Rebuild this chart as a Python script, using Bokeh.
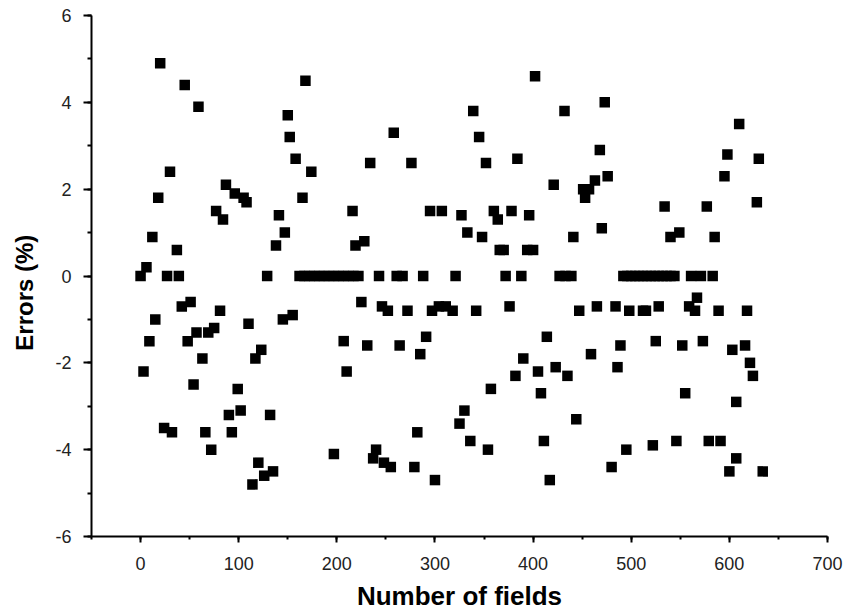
from bokeh.plotting import figure
from bokeh.models import Range1d, SingleIntervalTicker, ColumnDataSource, CustomJSTickFormatter
from bokeh.embed import file_html
from bokeh.resources import INLINE

# Data
fields = [
    0, 3, 6, 9, 12, 15, 18, 20, 24, 27, 30, 32, 37, 39, 42, 45, 48, 51, 54, 57,
    59, 63, 66, 69, 72, 75, 77, 81, 84, 87, 90, 93, 96, 99, 102, 105, 108, 110, 114, 117,
    120, 123, 126, 129, 132, 135, 138, 141, 145, 147, 150, 152, 155, 158,
    162, 167, 172, 177, 182, 187, 192, 197, 202, 207, 212, 217, 222,
    165, 168, 174,
    197, 207, 210, 216, 219, 225, 228, 231, 234, 237, 240, 243, 246, 248, 252, 255, 258, 261,
    264, 267, 272, 276, 279, 282, 285, 288, 291, 295, 297, 300, 304, 307, 311, 318, 321, 325,
    327, 330, 333, 336, 339, 342, 345, 348, 352, 354, 357, 360, 364, 366, 370, 372, 376, 378,
    382, 384, 388, 390, 394, 396, 400, 402, 405, 408, 411, 414, 417, 421, 423, 427, 432, 433,
    435, 439, 441, 444, 447, 451, 453, 457, 459, 463, 465, 468, 470, 473, 476, 480, 484, 486, 489,
    492, 496, 500, 504, 508, 512, 516, 520, 524, 528, 532, 536, 540, 544,
    495, 498, 512, 515, 522, 525, 528, 534, 540, 546, 549, 552, 555, 559, 561, 565, 567, 571,
    573, 577, 579, 583, 585, 589, 591, 595, 598, 600, 603, 607, 607, 610, 616, 618, 621, 624,
    628, 630, 634,
]
errors = [
    0, -2.2, 0.2, -1.5, 0.9, -1.0, 1.8, 4.9, -3.5, 0, 2.4, -3.6, 0.6, 0, -0.7, 4.4, -1.5, -0.6, -2.5, -1.3,
    3.9, -1.9, -3.6, -1.3, -4.0, -1.2, 1.5, -0.8, 1.3, 2.1, -3.2, -3.6, 1.9, -2.6, -3.1, 1.8, 1.7, -1.1, -4.8, -1.9,
    -4.3, -1.7, -4.6, 0, -3.2, -4.5, 0.7, 1.4, -1.0, 1.0, 3.7, 3.2, -0.9, 2.7,
    0, 0, 0, 0, 0, 0, 0, 0, 0, 0, 0, 0, 0,
    1.8, 4.5, 2.4,
    -4.1, -1.5, -2.2, 1.5, 0.7, -0.6, 0.8, -1.6, 2.6, -4.2, -4.0, 0, -0.7, -4.3, -0.8, -4.4, 3.3, 0,
    -1.6, 0, -0.8, 2.6, -4.4, -3.6, -1.8, 0, -1.4, 1.5, -0.8, -4.7, -0.7, 1.5, -0.7, -0.8, 0, -3.4,
    1.4, -3.1, 1.0, -3.8, 3.8, -0.8, 3.2, 0.9, 2.6, -4.0, -2.6, 1.5, 1.3, 0.6, 0.6, 0, -0.7, 1.5,
    -2.3, 2.7, 0, -1.9, 0.6, 1.4, 0.6, 4.6, -2.2, -2.7, -3.8, -1.4, -4.7, 2.1, -2.1, 0, 3.8, 0,
    -2.3, 0, 0.9, -3.3, -0.8, 2.0, 1.8, 2.0, -1.8, 2.2, -0.7, 2.9, 1.1, 4.0, 2.3, -4.4, -0.7, -2.1, -1.6,
    0, 0, 0, 0, 0, 0, 0, 0, 0, 0, 0, 0, 0, 0,
    -4.0, -0.8, -0.8, -0.8, -3.9, -1.5, -0.7, 1.6, 0.9, -3.8, 1.0, -1.6, -2.7, -0.7, 0, -0.8, -0.5, 0,
    -1.5, 1.6, -3.8, 0, 0.9, -0.8, -3.8, 2.3, 2.8, -4.5, -1.7, -4.2, -2.9, 3.5, -1.6, -0.8, -2.0, -2.3,
    1.7, 2.7, -4.5,
]

x_label = "Number of fields"
y_label = "Errors (%)"

src = ColumnDataSource(data=dict(x=fields, y=errors))

p = figure(
    width=848, height=614,
    x_range=Range1d(-50, 700), y_range=Range1d(-6, 6),
    output_backend="svg", toolbar_location=None,
    min_border_left=91, min_border_right=21, min_border_top=15, min_border_bottom=78,
)
p.outline_line_color = None
p.xgrid.grid_line_color = None
p.ygrid.grid_line_color = None
p.background_fill_color = "white"
p.border_fill_color = "white"

p.scatter("x", "y", source=src, marker="square", size=10.5,
          fill_color="black", line_color=None)

xa = p.xaxis[0]
ya = p.yaxis[0]
xa.ticker = SingleIntervalTicker(interval=100, num_minor_ticks=2)
ya.ticker = SingleIntervalTicker(interval=2, num_minor_ticks=2)

for ax in (xa, ya):
    ax.formatter = CustomJSTickFormatter(code="return String(tick);")
    ax.axis_line_width = 2
    ax.axis_line_color = "black"
    ax.major_tick_line_width = 2
    ax.minor_tick_line_width = 2
    ax.major_tick_line_color = "black"
    ax.minor_tick_line_color = "black"
    ax.major_tick_in = 0
    ax.minor_tick_in = 0
    ax.major_label_text_font = "Liberation Sans"
    ax.major_label_text_font_size = "18px"
    ax.major_label_text_color = "#222222"
    ax.axis_label_text_font = "Liberation Sans"
    ax.axis_label_text_font_style = "bold"
    ax.axis_label_text_color = "black"

xa.axis_label = x_label
xa.axis_label_text_font_size = "26px"
# trailing no-break spaces shift the rotated label down, as in the reference
ya.axis_label = y_label + "\u00a0" * 5
ya.axis_label_text_font_size = "24px"
xa.major_tick_out = 6
xa.minor_tick_out = 3
ya.major_tick_out = 8
ya.minor_tick_out = 4
xa.major_label_standoff = 14
ya.major_label_standoff = 12
xa.axis_label_standoff = 8
ya.axis_label_standoff = 14

open("out.html", "w").write(file_html(p, INLINE))
